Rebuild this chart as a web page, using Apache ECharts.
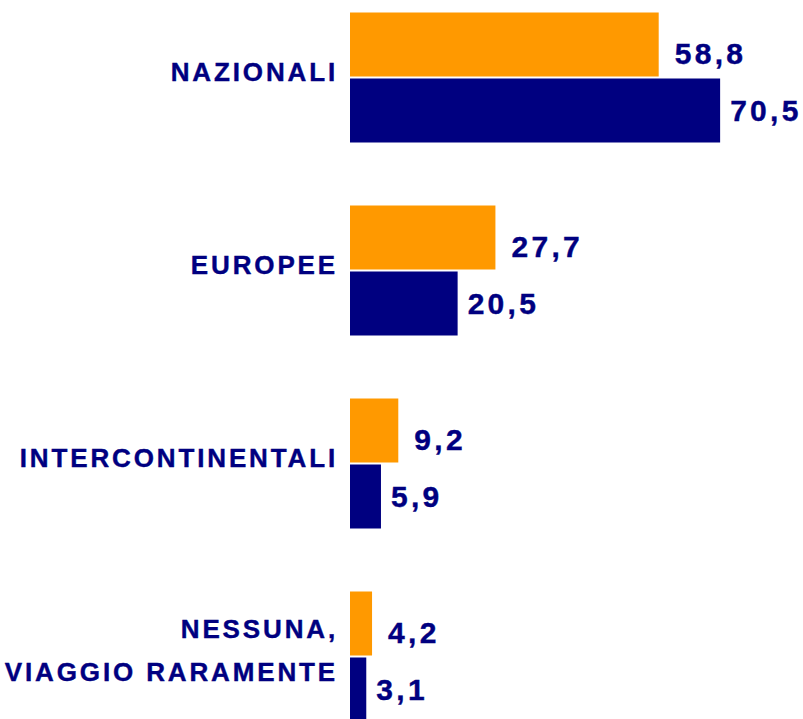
<!DOCTYPE html>
<html>
<head>
<meta charset="utf-8">
<script src="https://cdn.jsdelivr.net/npm/echarts@6/dist/echarts.min.js"></script>
<style>
html, body { margin: 0; padding: 0; background: #ffffff; }
#chart { width: 803px; height: 719px; }
#chart text { letter-spacing: 0.11em; }
</style>
</head>
<body>
<div id="chart"></div>
<script>
const categories = ['NAZIONALI', 'EUROPEE', 'INTERCONTINENTALI', 'NESSUNA,\nVIAGGIO RARAMENTE'];
const seriesOrange = [58.8, 27.7, 9.2, 4.2];
const seriesNavy = [70.5, 20.5, 5.9, 3.1];

const NAVY = '#000080';
const ORANGE = '#FF9900';
const FONT = '"Liberation Sans", Arial, sans-serif';
const fmt = p => String(p.value).replace('.', ',');

const chart = echarts.init(document.getElementById('chart'), null, { renderer: 'svg' });
chart.setOption({
  backgroundColor: '#ffffff',
  animation: false,
  grid: { left: 350, top: -19, width: 420, height: 772, outerBoundsMode: 'none', containLabel: false },
  xAxis: {
    type: 'value', min: 0, max: 80,
    show: false
  },
  yAxis: {
    type: 'category',
    data: categories,
    inverse: true,
    axisLine: { show: false },
    axisTick: { show: false },
    splitLine: { show: false },
    axisLabel: {
      margin: 12,
      formatter: v => v.split('\n').map(s => '{a|' + s + '}').join('\n'),
      rich: {
        a: {
          color: NAVY,
          fontFamily: FONT,
          fontWeight: 'bold',
          fontSize: 26,
          lineHeight: 43,
          padding: [0, 0, 12, 0],
          textBorderColor: NAVY,
          textBorderWidth: 0.4
        }
      }
    }
  },
  series: [
    {
      type: 'bar',
      data: seriesOrange,
      barWidth: 64,
      barGap: '3%',
      itemStyle: { color: ORANGE },
      label: {
        show: true, position: 'right', distance: 16, offset: [0, 9],
        formatter: fmt, color: NAVY,
        textBorderColor: NAVY, textBorderWidth: 0.4,
        fontFamily: FONT, fontWeight: 'bold', fontSize: 30
      }
    },
    {
      type: 'bar',
      data: seriesNavy,
      barWidth: 64,
      itemStyle: { color: NAVY },
      label: {
        show: true, position: 'right', distance: 10,
        formatter: fmt, color: NAVY,
        textBorderColor: NAVY, textBorderWidth: 0.4,
        fontFamily: FONT, fontWeight: 'bold', fontSize: 30
      }
    }
  ]
});
</script>
</body>
</html>
